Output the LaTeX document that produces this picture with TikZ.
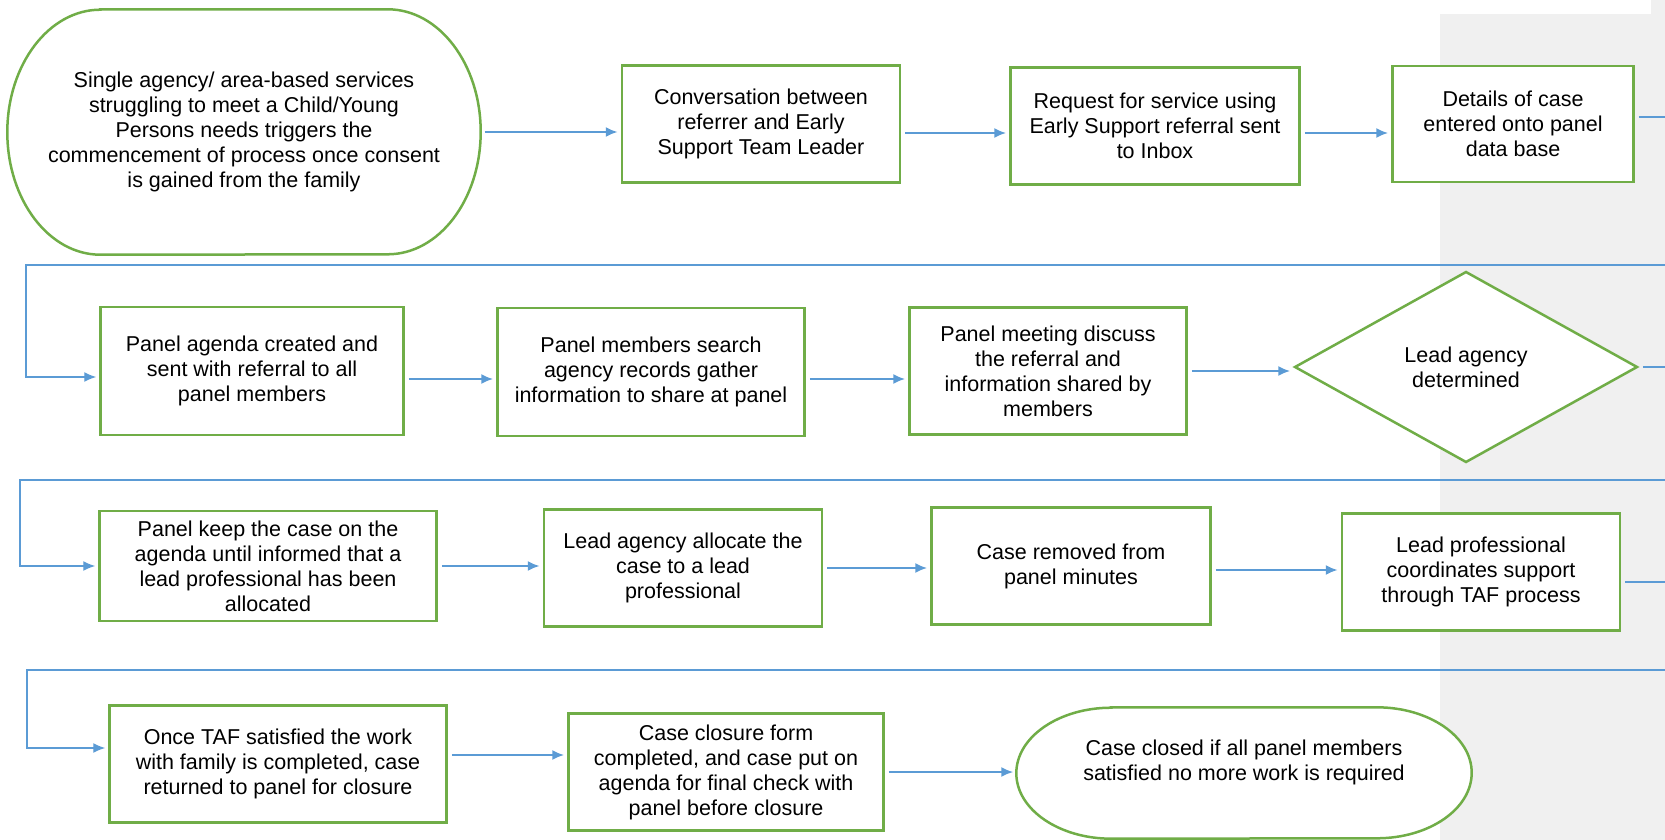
\documentclass[tikz,border=0pt]{standalone}
\usepackage{fontspec}
\setmainfont{Liberation Sans}
\usetikzlibrary{shapes.geometric,arrows.meta,backgrounds}
\definecolor{boxgreen}{HTML}{70AD47}
\definecolor{flowblue}{HTML}{5B9BD5}
\definecolor{sidegray}{HTML}{F0F0F0}
\tikzstyle{every node}=[font=\fontsize{21.5}{25}\selectfont]
\tikzstyle{process} = [draw=boxgreen,line width=2.5pt,fill=white,align=center,inner sep=2pt]
\tikzstyle{decision} = [diamond,draw=boxgreen,line width=2.5pt,fill=white,align=center,inner sep=0pt]
\tikzstyle{terminal} = [align=center,inner sep=0pt]
\tikzstyle{outline} = [draw=boxgreen,line width=2.5pt,fill=white]
\tikzstyle{arrow} = [line width=2pt,flowblue,->,>={Latex[length=12pt,width=10pt]},shorten <=4pt,shorten >=3pt]
\tikzstyle{offpage} = [line width=2pt,flowblue,shorten <=4pt]
\tikzstyle{wrap} = [line width=1.4pt,flowblue,->,>={Latex[length=12pt,width=10pt]},shorten >=3pt]

\begin{document}
\begin{tikzpicture}[x=1pt,y=-1pt]
\useasboundingbox (0,0) rectangle (1665,840);

% grey side panel
\begin{scope}[on background layer]
\fill[sidegray] (1440,14) rectangle (1665,840);
\fill[sidegray] (1651,0) rectangle (1665,14);
\end{scope}

% first row
\node[terminal,minimum width=473pt,minimum height=245pt] (start) at (244,132) {Single agency/ area-based services\\struggling to meet a Child/Young\\Persons needs triggers the\\commencement of process once consent\\is gained from the family};
\node[process,minimum width=278pt,minimum height=117pt] (conv) at (761,124) {Conversation between\\referrer and Early\\Support Team Leader};
\node[process,minimum width=289pt,minimum height=117pt] (req) at (1155,126) {Request for service using\\Early Support referral sent\\to Inbox};
\node[process,minimum width=241pt,minimum height=116pt] (details) at (1513,124) {Details of case\\entered onto panel\\data base};

% second row
\node[process,minimum width=303pt,minimum height=128pt] (agenda) at (252,371) {Panel agenda created and\\sent with referral to all\\panel members};
\node[process,minimum width=307pt,minimum height=128pt] (search) at (651,372) {Panel members search\\agency records gather\\information to share at panel};
\node[process,minimum width=277pt,minimum height=127pt] (meeting) at (1048,371) {Panel meeting discuss\\the referral and\\information shared by\\members};
\node[decision,minimum width=343pt,minimum height=191pt] (decide) at (1466,367) {Lead agency\\determined};

% third row
\node[process,minimum width=337pt,minimum height=110pt] (keep) at (268,566) {Panel keep the case on the\\agenda until informed that a\\lead professional has been\\allocated};
\node[process,minimum width=278pt,minimum height=117pt] (alloc) at (683,568) {Lead agency allocate the\\case to a lead\\professional};
\node[process,minimum width=279pt,minimum height=117pt] (removed) at (1071,566) {Case removed from\\panel minutes};
\node[process,minimum width=278pt,minimum height=117pt] (coord) at (1481,572) {Lead professional\\coordinates support\\through TAF process};

% fourth row
\node[process,minimum width=337pt,minimum height=117pt] (taf) at (278,764) {Once TAF satisfied the work\\with family is completed, case\\returned to panel for closure};
\node[process,minimum width=315pt,minimum height=117pt] (closure) at (726,772) {Case closure form\\completed, and case put on\\agenda for final check with\\panel before closure};
\node[terminal,minimum width=455pt,minimum height=131pt] (finish) at (1244,762) {Case closed if all panel members\\satisfied no more work is required};

% rounded ends of the two terminals
\begin{scope}[on background layer]
\draw[outline] ([xshift=93pt]start.north west) -- ([xshift=-93pt]start.north east) arc[start angle=90,end angle=-90,x radius=93pt,y radius=122.5pt] -- ([xshift=93pt]start.south west) arc[start angle=270,end angle=90,x radius=93pt,y radius=122.5pt] -- cycle;
\draw[outline] ([xshift=95pt,yshift=-11pt]finish.north west) -- ([xshift=-95pt,yshift=-11pt]finish.north east) arc[start angle=90,end angle=-90,x radius=95pt,y radius=65.5pt] -- ([xshift=95pt,yshift=-11pt]finish.south west) arc[start angle=270,end angle=90,x radius=95pt,y radius=65.5pt] -- cycle;
\end{scope}

% off page ends and returns
\coordinate (edgeA) at (1665,117);
\coordinate (edgeB) at (1665,367);
\coordinate (edgeC) at (1665,582);
\coordinate (sepA) at (1665,265);
\coordinate (turnA) at (26,265);
\coordinate (sepB) at (1665,480);
\coordinate (turnB) at (20,480);
\coordinate (sepC) at (1665,670);
\coordinate (turnC) at (27,670);

% arrows
\draw[arrow] (start.east) -- (start.east -| conv.west);
\draw[arrow] ([yshift=-9pt]conv.east) -- ([yshift=-9pt]conv.east -| req.west);
\draw[arrow] ([yshift=-7pt]req.east) -- ([yshift=-7pt]req.east -| details.west);
\draw[offpage] ([yshift=7pt]details.east) -- (edgeA);

\draw[wrap] (sepA) -- (turnA) |- ([yshift=-6pt]agenda.west);
\draw[arrow] ([yshift=-8pt]agenda.east) -- ([yshift=-8pt]agenda.east -| search.west);
\draw[arrow] ([yshift=-7pt]search.east) -- ([yshift=-7pt]search.east -| meeting.west);
\draw[arrow] (meeting.east) -- (meeting.east -| decide.west);
\draw[offpage] (decide.east) -- (edgeB);

\draw[wrap] (sepB) -- (turnB) |- (keep.west);
\draw[arrow] (keep.east) -- (keep.east -| alloc.west);
\draw[arrow] (alloc.east) -- (alloc.east -| removed.west);
\draw[arrow] ([yshift=-4pt]removed.east) -- ([yshift=-4pt]removed.east -| coord.west);
\draw[offpage] ([yshift=-10pt]coord.east) -- (edgeC);

\draw[wrap] (sepC) -- (turnC) |- ([yshift=16pt]taf.west);
\draw[arrow] ([yshift=9pt]taf.east) -- ([yshift=9pt]taf.east -| closure.west);
\draw[arrow] (closure.east) -- (closure.east -| finish.west);

\end{tikzpicture}
\end{document}
